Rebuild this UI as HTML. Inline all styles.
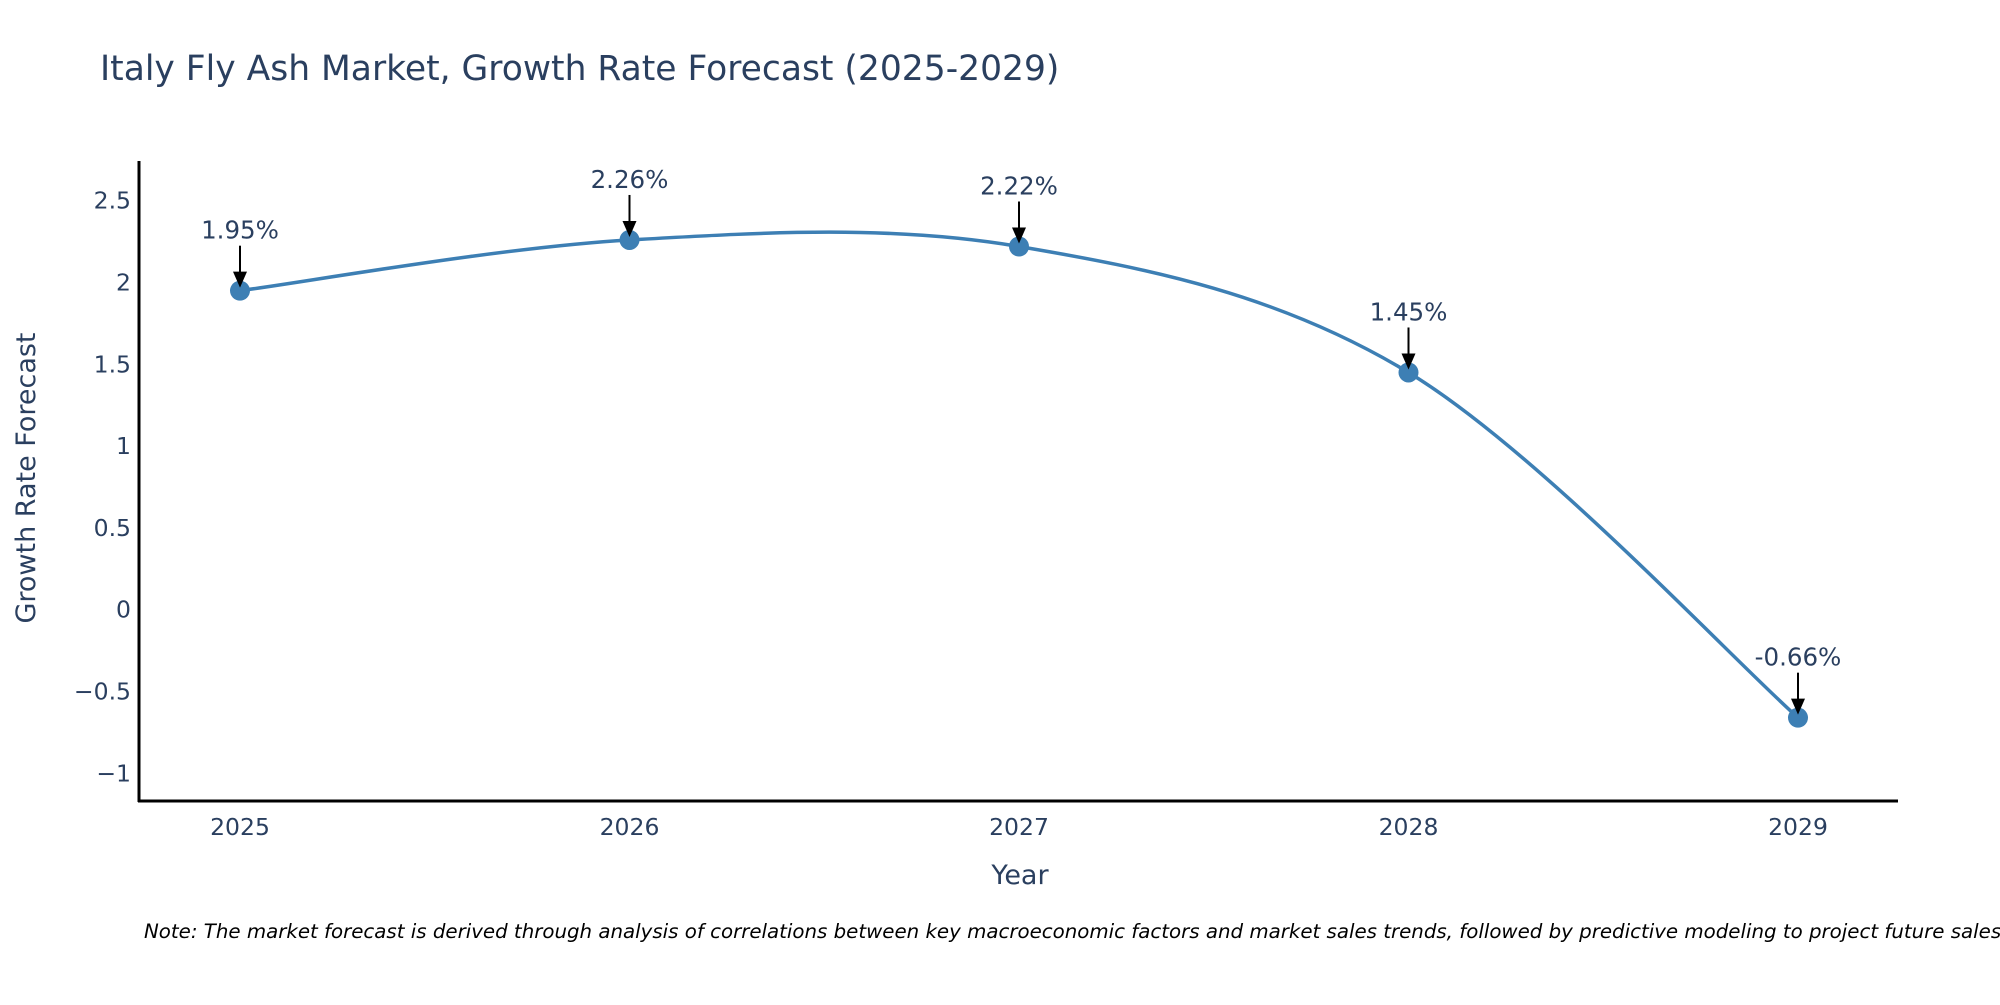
<!DOCTYPE html>
<html><head><meta charset="utf-8"><style>
body{margin:0;background:#fff;overflow:hidden;}
svg text{font-family:"DejaVu Sans","Liberation Sans",sans-serif;}
</style></head><body>
<svg id="chart" width="2000" height="1000" xmlns="http://www.w3.org/2000/svg">
<rect width="2000" height="1000" fill="#fff"/>
<text x="100" y="80" font-size="34.5" fill="#2a3f5f">Italy Fly Ash Market, Growth Rate Forecast (2025-2029)</text>
<g id="yticks"></g>
<g id="xticks"></g>
<line x1="139" y1="161" x2="139" y2="802" stroke="#000" stroke-width="3"/>
<line x1="138" y1="801" x2="1898" y2="801" stroke="#000" stroke-width="3"/>
<g id="series"></g>
<g id="annots"></g>
<text x="1020" y="884" font-size="27" fill="#2a3f5f" text-anchor="middle">Year</text>
<text transform="translate(35,478) rotate(-90)" font-size="27" fill="#2a3f5f" text-anchor="middle">Growth Rate Forecast</text>
<text x="144" y="938" font-size="19.8" font-style="italic" fill="#000">Note: The market forecast is derived through analysis of correlations between key macroeconomic factors and market sales trends, followed by predictive modeling to project future sales.</text>
</svg>
<script>
const years = [2025, 2026, 2027, 2028, 2029];
const growth = [1.95, 2.26, 2.22, 1.45, -0.66];
const labels = ["1.95%", "2.26%", "2.22%", "1.45%", "-0.66%"];
const yTicks = [2.5, 2, 1.5, 1, 0.5, 0, -0.5, -1];
const yTickLabels = ["2.5", "2", "1.5", "1", "0.5", "0", "\u22120.5", "\u22121"];

const NS = "http://www.w3.org/2000/svg";
const xScale = v => 240 + (v - 2025) * 389.5;
const yScale = v => 609.7 - v * 163.6;
function mk(tag, attrs, parent) {
  const e = document.createElementNS(NS, tag);
  for (const k in attrs) e.setAttribute(k, attrs[k]);
  parent.appendChild(e);
  return e;
}
const yt = document.getElementById('yticks');
yTicks.forEach((v, i) => {
  const t = mk('text', {x: 131, y: yScale(v) + 8, 'font-size': 23.5, fill: '#2a3f5f', 'text-anchor': 'end'}, yt);
  
  
  t.textContent = yTickLabels[i];
});
const xt = document.getElementById('xticks');
years.forEach(y => {
  const t = mk('text', {x: xScale(y), y: 835, 'font-size': 23.5, fill: '#2a3f5f', 'text-anchor': 'middle'}, xt);
  
  
  t.textContent = String(y);
});
const pts = years.map((y, i) => [xScale(y), yScale(growth[i])]);
let d = 'M' + pts[0][0] + ',' + pts[0][1];
for (let i = 0; i < pts.length - 1; i++) {
  const p0 = pts[Math.max(0, i - 1)], p1 = pts[i], p2 = pts[i + 1], p3 = pts[Math.min(pts.length - 1, i + 2)];
  const c1 = [p1[0] + (p2[0] - p0[0]) / 6, p1[1] + (p2[1] - p0[1]) / 6];
  const c2 = [p2[0] - (p3[0] - p1[0]) / 6, p2[1] - (p3[1] - p1[1]) / 6];
  d += ' C' + c1.join(',') + ' ' + c2.join(',') + ' ' + p2.join(',');
}
const s = document.getElementById('series');
const line = mk('path', {d: d, fill: 'none', stroke: '#3d7fb4', 'stroke-width': 3.5}, s);


pts.forEach(p => {
  const c = mk('circle', {cx: p[0], cy: p[1], r: 10, fill: '#3d7fb4'}, s);
  
  
});
const a = document.getElementById('annots');
pts.forEach((p, i) => {
  const g = mk('g', {}, a);
  
  
  mk('line', {x1: p[0], y1: p[1] - 45, x2: p[0], y2: p[1] - 18, stroke: '#000', 'stroke-width': 2}, g);
  mk('polygon', {points: (p[0] - 7) + ',' + (p[1] - 19) + ' ' + (p[0] + 7) + ',' + (p[1] - 19) + ' ' + p[0] + ',' + (p[1] - 3), fill: '#000'}, g);
  const t = mk('text', {x: p[0], y: p[1] - 52, 'font-size': 24.5, fill: '#2a3f5f', 'text-anchor': 'middle'}, g);
  t.textContent = labels[i];
});
</script>
</body></html>
